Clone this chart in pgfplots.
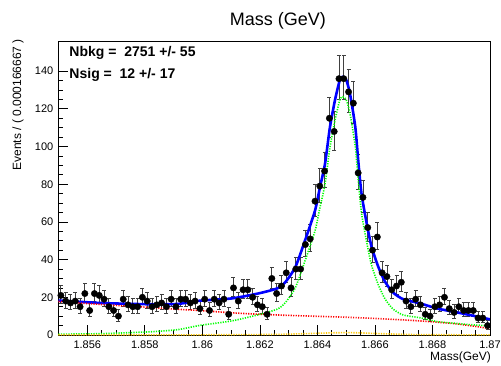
\documentclass[border=0pt]{standalone}
\usepackage{fontspec}
\setmainfont{Liberation Sans}
\usepackage{pgfplots}
\pgfplotsset{compat=1.18}
\usepackage{pgfplotstable}
\definecolor{rootyellow}{RGB}{255,200,0}

\pgfplotstableread{
x n
0.5 21
1.5 18
2.5 17
3.5 18
4.5 15
5.5 22
6.5 13
7.5 22
8.5 21
9.5 19
10.5 15
11.5 13
12.5 10
13.5 19
14.5 16
15.5 15
16.5 15
17.5 20
18.5 18
19.5 15
20.5 16
21.5 17
22.5 15
23.5 19
24.5 15
25.5 19
26.5 19
27.5 17
28.5 18
29.5 14
30.5 19
31.5 13
32.5 19
33.5 17
34.5 19
35.5 11
36.5 25
37.5 18
38.5 24
39.5 24
40.5 20
41.5 16
42.5 15
43.5 11
44.5 30
45.5 22
46.5 26
47.5 33
48.5 25
49.5 35
50.5 35
51.5 48
52.5 51
53.5 71
54.5 79
55.5 87
56.5 115
57.5 108
58.5 136
59.5 136
60.5 129
61.5 123
62.5 86
63.5 73
64.5 57
65.5 45
66.5 52
67.5 33
68.5 31
69.5 24
70.5 26
71.5 28
72.5 18
73.5 15
74.5 19
75.5 16
76.5 11
77.5 10
78.5 15
79.5 16
80.5 20
81.5 14
82.5 12
83.5 15
84.5 13
85.5 13
86.5 13
87.5 9
88.5 9
89.5 5
}\datatable

\begin{document}
\begin{tikzpicture}
\path[use as bounding box] (-58.5bp,-31bp) rectangle (442.5bp,335bp);
\begin{axis}[name=ax, at={(0,0)}, anchor=south west,
  scale only axis, width=431.5bp, height=294bp,
  xmin=0, xmax=90, ymin=0, ymax=156,
  xtick={6,18,30,42,54,66,78,90},
  xticklabels={1.856,1.858,1.86,1.862,1.864,1.866,1.868,1.87},
  minor x tick num=3,
  ytick={0,20,40,60,80,100,120,140}, minor y tick num=3,
  tick align=inside, xtick pos=left, ytick pos=left,
  major tick length=10bp, minor tick length=5bp,
  tick style={black, line width=0.7bp},
  axis line style={black, line width=0.8bp},
  /pgf/number format/assume math mode=true,
  ticklabel style={font=\fontsize{11bp}{13bp}\selectfont},
  yticklabel style={anchor=east, inner sep=0pt, xshift=-5bp},
  xticklabel style={anchor=base, inner sep=0pt, yshift=-13.3bp},
  clip=true]
\addplot[only marks, mark=*, mark size=3.2bp, black,
  error bars/.cd, y dir=both, y explicit,
  error bar style={black!75, line width=0.8bp},
  error mark options={rotate=90, mark size=2bp, black!75, line width=0.7bp}]
  table[x=x, y=n, y error plus expr={sqrt(\thisrow{n}+0.25)+0.5},
        y error minus expr={sqrt(\thisrow{n}+0.25)-0.5}] {\datatable};
\addplot[blue, line width=2.6bp, smooth, tension=0.4] coordinates {
(0,18.3)(8.7,17.0)(19.1,16.3)(24.9,16.5)(29.5,18.2)(36.1,19.4)(41.6,22)(45.6,24.7)
(47.3,28)(49.4,36)(51.4,50)(53.5,66)(54.5,78)(55.6,91)(56.6,110)(57.7,125)
(58.7,135.5)(59.3,137)(60.0,135.5)(60.8,128)(61.9,110.5)(62.5,93)(63.2,75)(64.3,59)
(65.3,46.8)(66.7,36.2)(68.1,28.3)(69.8,22.5)(71.9,19)(75.4,16.8)(78.9,14.1)(82.3,12.4)
(85.8,10.6)(90,8.3)};
\addplot[red, line width=1.6bp, dash pattern=on 1.2bp off 1.3bp, smooth] coordinates {
(0,17.8)(3,17.2)(6,16.7)(12,15.7)(18,14.8)(24,13.8)(30,12.9)(36,11.8)(42,11.0)
(48,10.4)(54,9.9)(60,9.4)(66,8.8)(72,8.0)(78,7.0)(84,5.6)(90,3.4)};
\addplot[green, line width=1.6bp, dash pattern=on 1.2bp off 1.3bp, smooth, tension=0.4] coordinates {
(0,0.45)(8.7,0.7)(19.1,1.7)(24.9,2.85)(29.5,5.1)(36.1,7.45)(41.6,10.7)(45.6,13.7)
(47.3,17.1)(49.4,25.1)(51.4,39.2)(53.5,55.2)(54.5,67.2)(55.6,80.2)(56.6,99.2)(57.7,114.3)
(58.7,124.9)(59.3,126.4)(60.0,124.9)(60.8,117.5)(61.9,100.1)(62.5,82.7)(63.2,64.8)(64.3,49)
(65.3,37)(66.7,26.7)(68.1,19.15)(69.8,13.75)(71.9,10.6)(75.4,9.15)(78.9,7.15)(82.3,6.3)
(85.8,5.5)(90,4.85)};
\addplot[rootyellow, line width=1.6bp, dash pattern=on 1.2bp off 1.3bp, smooth] coordinates {
(0,0.05)(30,0.1)(45,0.3)(50,0.6)(54,0.9)(58,1.2)(62,1.2)(66,0.8)(70,0.5)(75,0.2)(90,0.05)};
\end{axis}
\node[anchor=base west, inner sep=0pt, font=\bfseries\fontsize{14bp}{16bp}\selectfont]
  at ([xshift=10.8bp, yshift=-15.7bp]ax.north west) {Nbkg =\ \ 2751 +/- 55};
\node[anchor=base west, inner sep=0pt, font=\bfseries\fontsize{14bp}{16bp}\selectfont]
  at ([xshift=10.8bp, yshift=-38bp]ax.north west) {Nsig =\ \ 12 +/- 17};
\node[anchor=base, inner sep=0pt, font=\fontsize{18bp}{20bp}\selectfont]
  at (219.5bp,309bp) {Mass (GeV)};
\node[anchor=base east, inner sep=0pt, font=\fontsize{12bp}{14bp}\selectfont]
  at (432.5bp,-25bp) {Mass(GeV)};
\node[rotate=90, anchor=east, inner sep=0pt, font=\fontsize{12bp}{14bp}\selectfont]
  at (-40.5bp,296bp) {Events / ( 0.000166667 )};
\end{tikzpicture}
\end{document}
